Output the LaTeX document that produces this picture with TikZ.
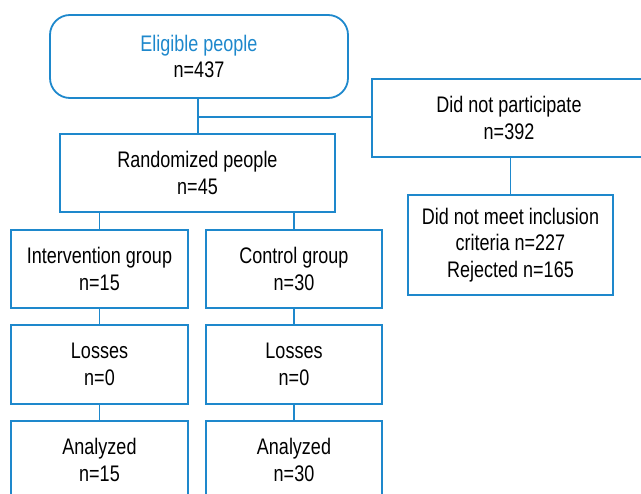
\documentclass[tikz,border=0pt]{standalone}
\usepackage{fontspec}
\setmainfont[FakeStretch=0.8]{Liberation Sans}
\definecolor{fblue}{RGB}{30,136,204}
\begin{document}
\begin{tikzpicture}[x=1bp,y=-1bp,
  box/.style={draw=fblue,line width=1.8bp,align=center,inner sep=0pt,
    font=\fontsize{22.5bp}{26.5bp}\selectfont,text=black},
  conn/.style={draw=fblue,line width=1.8bp}]
\useasboundingbox (0,0) rectangle (641,494);
\clip (0,0) rectangle (641,494);
\node[box,rounded corners=20bp,minimum width=298bp,minimum height=83bp] (elig) at (199,56.5)
  {\textcolor{fblue}{Eligible people}\\n=437};
\node[box,minimum width=274bp,minimum height=78bp] (dnp) at (509,118)
  {Did not participate\\n=392};
\node[box,minimum width=205bp,minimum height=100bp] (dnm) at (510.5,245)
  {Did not meet inclusion\\criteria n=227\\Rejected n=165};
\node[box,minimum width=275bp,minimum height=78bp] (rand) at (197.5,173)
  {Randomized people\\n=45};
\node[box,minimum width=177bp,minimum height=78bp] (int) at (99.5,269)
  {Intervention group\\n=15};
\node[box,minimum width=176bp,minimum height=78bp] (ctl) at (294,269)
  {Control group\\n=30};
\node[box,minimum width=177bp,minimum height=79bp] (loss1) at (99.5,364.5)
  {Losses\\n=0};
\node[box,minimum width=176bp,minimum height=79bp] (loss2) at (294,364.5)
  {Losses\\n=0};
\node[box,minimum width=177bp,minimum height=78bp] (an1) at (99.5,460)
  {Analyzed\\n=15};
\node[box,minimum width=176bp,minimum height=78bp] (an2) at (294,460)
  {Analyzed\\n=30};
\coordinate (j) at (198,117);
\draw[conn] (elig.south -| j) -- (rand.north -| j);
\draw[conn] (j) -- (dnp.west |- j);
\draw[conn] (dnp.south -| dnm.north) -- (dnm.north);
\draw[conn] (rand.south -| int.north) -- (int.north);
\draw[conn] (rand.south -| ctl.north) -- (ctl.north);
\draw[conn] (int.south) -- (loss1.north);
\draw[conn] (ctl.south) -- (loss2.north);
\draw[conn] (loss1.south) -- (an1.north);
\draw[conn] (loss2.south) -- (an2.north);
\end{tikzpicture}
\end{document}
